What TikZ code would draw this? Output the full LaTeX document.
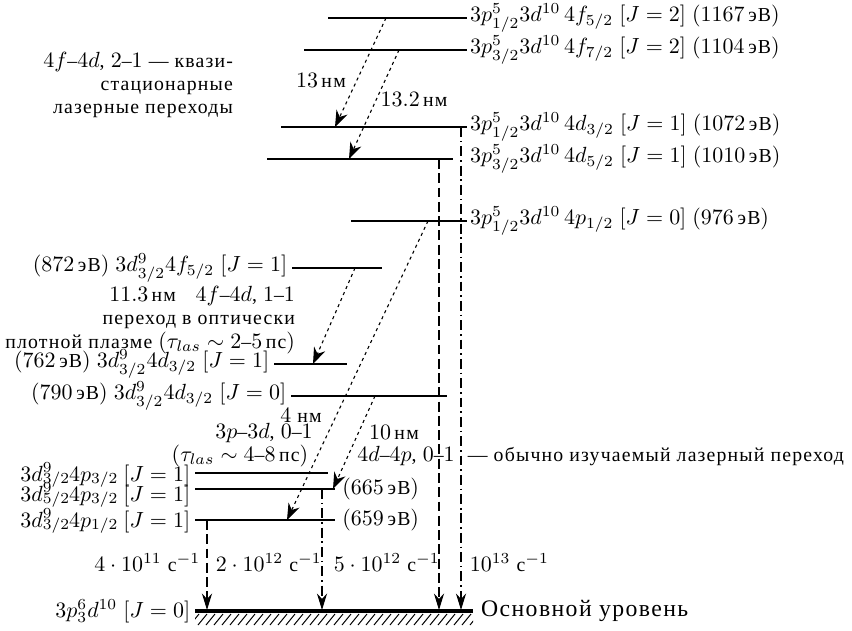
\documentclass[tikz,border=0pt]{standalone}
\usepackage{amsmath}
\usepackage{fontspec}
\setmainfont{Liberation Serif}[Scale=0.9, LetterSpace=6]
\usepackage{tikz}
\usetikzlibrary{arrows.meta}

\newcommand{\ev}[1]{$(#1\,\text{эВ})$}
% плотные индексы для тесно стоящих подписей
\newcommand{\tsc}[2]{\rlap{\raisebox{3.8pt}{$\scriptstyle#1$}}\raisebox{-1pt}{$\scriptstyle#2$}}

\begin{document}
\begin{tikzpicture}[x=0.016cm, y=-0.016cm,
  lvl/.style={line width=1.3pt},
  trans/.style={line width=0.5pt, dash pattern=on 1.4pt off 1.6pt,
    -{Stealth[length=7.5pt,width=5.5pt]}},
  decay/.style={line width=0.5pt, -{Stealth[length=7.5pt,width=4.6pt]}},
  dsh/.style={dash pattern=on 4.5pt off 2pt},
  dshdot/.style={dash pattern=on 4.5pt off 1.8pt on 0.7pt off 1.8pt},
  rlbl/.style={anchor=west, inner sep=1.2pt},
  llbl/.style={anchor=east, inner sep=2pt},
  block/.style={align=right, font={\fontsize{10}{10.6}\selectfont}}]
  \useasboundingbox (0,0) rectangle (852,630);

  % Уровни 3p^5 3d^10 nl
  \coordinate (l1w) at (328,18);  \coordinate (l1e) at (467,18);
  \coordinate (l2w) at (304,50);  \coordinate (l2e) at (467,50);
  \coordinate (l3w) at (281,127); \coordinate (l3e) at (467,127);
  \coordinate (l4w) at (267,159); \coordinate (l4e) at (453,159);
  \coordinate (l5w) at (351,221); \coordinate (l5e) at (467,221);
  \draw[lvl] (l1w) -- (l1e);
  \draw[lvl] (l2w) -- (l2e);
  \draw[lvl] (l3w) -- (l3e);
  \draw[lvl] (l4w) -- (l4e);
  \draw[lvl] (l5w) -- (l5e);
  \node[rlbl] (t1) at (l1e) {$3p^5_{1/2}3d^{10}\,4f_{5/2}\;[J=2]$ \ev{1167}};
  \node[rlbl] (t2) at (l2e) {$3p^5_{3/2}3d^{10}\,4f_{7/2}\;[J=2]$ \ev{1104}};
  \node[rlbl] (t3) at (l3e) {$3p^5_{1/2}3d^{10}\,4d_{3/2}\;[J=1]$ \ev{1072}};
  \node[rlbl] (t4) at (l4e -| l3e) {$3p^5_{3/2}3d^{10}\,4d_{5/2}\;[J=1]$ \ev{1010}};
  \node[rlbl] (t5) at (l5e) {$3p^5_{1/2}3d^{10}\,4p_{1/2}\;[J=0]$ \ev{976}};

  % Уровни 3d^9 nl
  \coordinate (l6w) at (292,268);  \coordinate (l6e) at (382,268);
  \coordinate (l7w) at (274,364);  \coordinate (l7e) at (347,364);
  \coordinate (l8w) at (291,396);  \coordinate (l8e) at (447,396);
  \coordinate (l9w) at (195,473);  \coordinate (l9e) at (328,473);
  \coordinate (l10w) at (195,489); \coordinate (l10e) at (335,489);
  \coordinate (l11w) at (195,520); \coordinate (l11e) at (335,520);
  \foreach \n in {6,...,11}
    \draw[lvl] (l\n w) -- (l\n e);
  \node[llbl] (t6) at (l6w) {\ev{872} $3d^9_{3/2}4f_{5/2}\;[J=1]$};
  \node[llbl] (t7) at (l7w) {\ev{762} $3d^9_{3/2}4d_{3/2}\;[J=1]$};
  \node[llbl] (t8) at (l8w) {\ev{790} $3d^9_{3/2}4d_{3/2}\;[J=0]$};
  \node[llbl, anchor=base east] (t9) at (195,481) {$3d\tsc{9}{3/2}4p\raisebox{-1pt}{$\scriptstyle3/2$}\;[J=1]$};
  \node[llbl, anchor=base east] (t10) at (195,501) {$3d\tsc{9}{5/2}4p\raisebox{-1pt}{$\scriptstyle3/2$}\;[J=1]$};
  \node[llbl, anchor=base east] (t11) at (195,527) {$3d\tsc{9}{3/2}4p\raisebox{-1pt}{$\scriptstyle1/2$}\;[J=1]$};
  \node[rlbl] (e10) at ([xshift=2pt]l10e) {\ev{665}};
  \node[rlbl] (e11) at ([xshift=2pt]l11e) {\ev{659}};

  % Основное состояние
  \coordinate (gw) at (195,611); \coordinate (ge) at (473,611);
  \begin{scope}
    \clip (195,611) rectangle (473,627);
    \foreach \x in {190,198,...,474}
      \draw[line width=0.45pt] (\x,625) -- ++(9,-11);
  \end{scope}
  \draw[line width=1.4pt] (gw) -- (ge);
  \node[llbl] (tg) at (gw) {$3p^6_3d^{10}\;[J=0]$};
  \node[anchor=west, inner sep=3.5pt] (tge) at (ge) {\large Основной уровень};

  % Лазерные переходы
  \coordinate (a1s) at (386,18);  \coordinate (a1e) at (335,127);
  \coordinate (a2s) at (399,50);  \coordinate (a2e) at (349,159);
  \coordinate (a3s) at (355,268); \coordinate (a3e) at (313,364);
  \coordinate (a4s) at (428,221); \coordinate (a4e) at (287,520);
  \coordinate (a5s) at (375,396); \coordinate (a5e) at (333,489);
  \draw[trans] (a1s) -- (a1e);
  \draw[trans] (a2s) -- (a2e);
  \draw[trans] (a3s) -- (a3e);
  \draw[trans] (a4s) -- (a4e);
  \draw[trans] (a5s) -- (a5e);

  \node (w1) at (321,80) {$13$\,нм};
  \node (w2) at (414,99) {$13.2$\,нм};
  \node[block, anchor=east] (c1) at (240,85)
    {$4f$–$4d$, $2$–$1$ — квази-\\стационарные\\лазерные переходы};
  \node[block, anchor=east] (c2) at (302,320)
    {$11.3$\,нм\quad $4f$–$4d$, $1$–$1$\\переход в оптически\\плотной плазме
     $(\tau_{las}\sim 2\text{–}5\,\text{пс})$};
  \node (w4) at (301,415) {$4$ нм};
  \node (c4) at (264,433) {$3p$–$3d$, $0$–$1$};
  \node (c4b) at (240,456) {$(\tau_{las}\sim 4\text{–}8\,\text{пс})$};
  \node (w5) at (394,432) {$10$\,нм};
  \node (c5) at (406,456) {$4d$–$4p$, $0$–$1$};
  \node[anchor=west, inner sep=2pt] (c5b) at (463,457) {— обычно изучаемый лазерный переход};

  % Радиационный распад
  \coordinate (v1s) at (207,520); \coordinate (v1e) at (207,610);
  \coordinate (v2s) at (322,489); \coordinate (v2e) at (322,610);
  \coordinate (v3s) at (439,159); \coordinate (v3e) at (439,610);
  \coordinate (v4s) at (461,127); \coordinate (v4e) at (461,610);
  \draw[decay, dsh] (v1s) -- (v1e);
  \draw[decay, dshdot] (v2s) -- (v2e);
  \draw[decay, dsh] (v3s) -- (v3e);
  \draw[decay, dshdot] (v4s) -- (v4e);
  \node[anchor=east, inner sep=2pt] (r1) at (205,563) {$4\cdot10^{11}$ с$^{-1}$};
  \node[anchor=west, inner sep=2pt] (r2) at (211,563) {$2\cdot10^{12}$ с$^{-1}$};
  \node[anchor=west, inner sep=2pt] (r3) at (329,563) {$5\cdot10^{12}$ с$^{-1}$};
  \node[anchor=west, inner sep=2pt] (r4) at (465,563) {$10^{13}$ с$^{-1}$};
\end{tikzpicture}
\end{document}
